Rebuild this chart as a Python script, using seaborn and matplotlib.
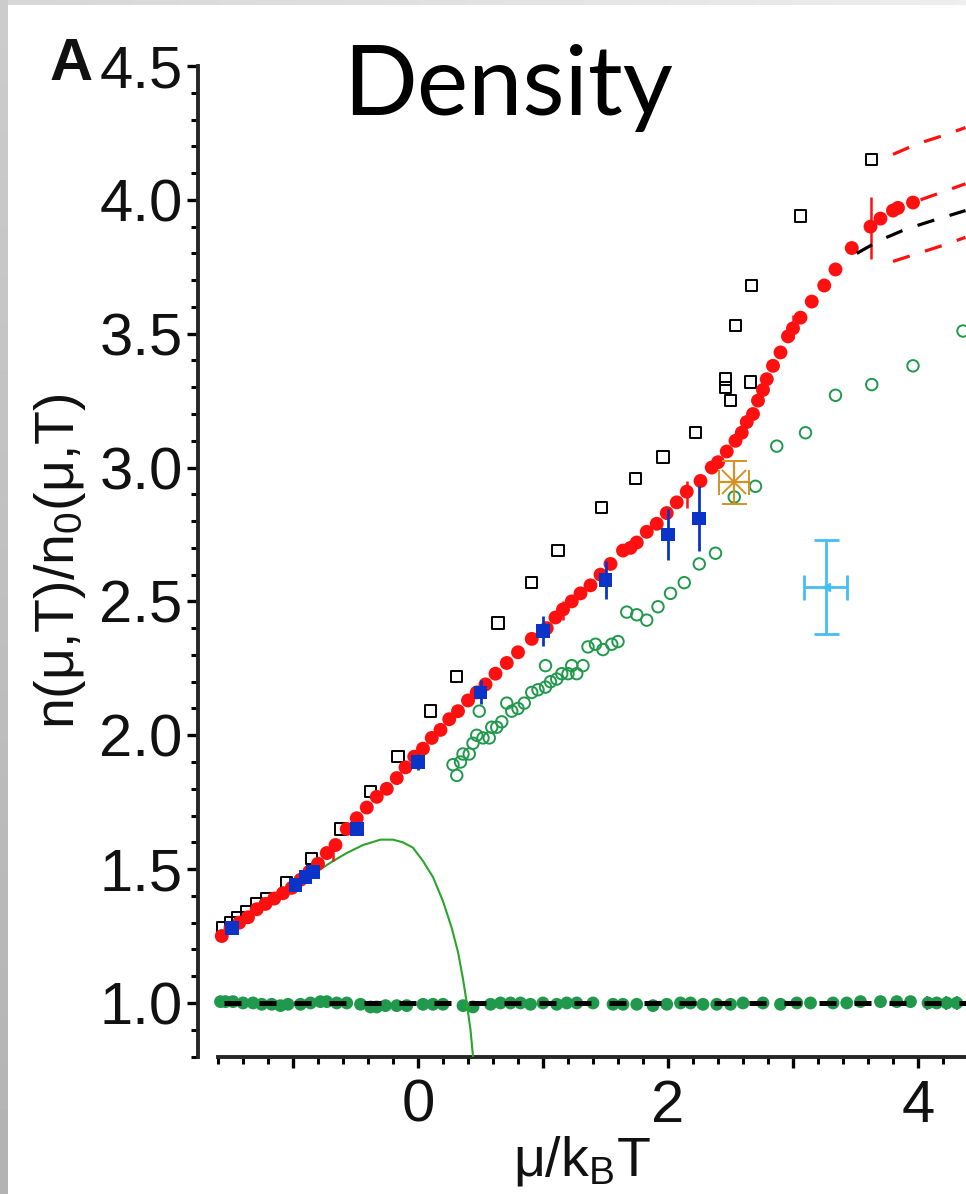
import numpy as np
import pandas as pd
import matplotlib
matplotlib.use("Agg")
import matplotlib.pyplot as plt
import seaborn as sns
from matplotlib.ticker import FixedLocator, MultipleLocator, FuncFormatter

# ---------------- data ----------------
# measured density ratio (red filled circles)
red_mu = [-1.57, -1.50, -1.43, -1.36, -1.29, -1.22, -1.15, -1.08, -1.01, -0.94,
          -0.87, -0.80, -0.73, -0.66, -0.57, -0.49, -0.41, -0.33, -0.25, -0.17,
          -0.10, -0.03, 0.04, 0.11, 0.18, 0.25, 0.32, 0.40, 0.47, 0.54,
          0.62, 0.71, 0.80, 0.91, 1.03, 1.10, 1.16, 1.23, 1.30, 1.38,
          1.46, 1.54, 1.64, 1.70, 1.75, 1.83, 1.91, 1.99, 2.07, 2.15,
          2.26, 2.35, 2.40, 2.47, 2.54, 2.59, 2.63, 2.68, 2.72, 2.76,
          2.79, 2.84, 2.90, 2.96, 3.00, 3.06, 3.15, 3.25, 3.34, 3.47,
          3.62, 3.70, 3.80, 3.84, 3.96]
red_n = [1.25, 1.28, 1.30, 1.32, 1.35, 1.37, 1.39, 1.41, 1.43, 1.46,
         1.49, 1.52, 1.56, 1.59, 1.65, 1.69, 1.73, 1.77, 1.80, 1.84,
         1.88, 1.92, 1.95, 1.99, 2.02, 2.06, 2.09, 2.13, 2.16, 2.19,
         2.23, 2.27, 2.31, 2.36, 2.40, 2.44, 2.47, 2.50, 2.53, 2.56,
         2.60, 2.64, 2.69, 2.70, 2.72, 2.76, 2.79, 2.83, 2.87, 2.91,
         2.95, 3.00, 3.02, 3.06, 3.10, 3.13, 3.17, 3.20, 3.25, 3.29,
         3.33, 3.38, 3.43, 3.49, 3.52, 3.56, 3.62, 3.68, 3.74, 3.82,
         3.90, 3.93, 3.96, 3.97, 3.99]
red_err_mu = [-0.68, 1.16, 2.15, 3.00, 3.62]
red_err_n = [1.565, 2.465, 2.90, 3.525, 3.895]
red_err = [0.035, 0.035, 0.05, 0.045, 0.115]

# open black squares
sq_mu = [-1.56, -1.50, -1.44, -1.37, -1.29, -1.21, -1.05, -0.85, -0.62, -0.38,
         -0.16, 0.10, 0.31, 0.64, 0.91, 1.12, 1.47, 1.74, 1.96, 2.22,
         2.50, 2.46, 2.46, 2.66, 2.54, 2.67, 3.06, 3.63]
sq_n = [1.28, 1.30, 1.32, 1.34, 1.37, 1.39, 1.45, 1.54, 1.65, 1.79,
        1.92, 2.09, 2.22, 2.42, 2.57, 2.69, 2.85, 2.96, 3.04, 3.13,
        3.25, 3.30, 3.33, 3.32, 3.53, 3.68, 3.94, 4.15]

# blue filled squares with error bars
blue_mu = [-1.49, -0.98, -0.90, -0.84, -0.49, 0.00, 0.50, 1.00, 1.50, 2.00, 2.25]
blue_n = [1.28, 1.44, 1.47, 1.49, 1.65, 1.90, 2.16, 2.39, 2.58, 2.75, 2.81]
blue_err = [0.015, 0.02, 0.02, 0.02, 0.02, 0.03, 0.045, 0.055, 0.07, 0.095, 0.12]

# open green circles
gc_mu = [0.31, 0.28, 0.34, 0.36, 0.41, 0.44, 0.47, 0.52, 0.57, 0.59,
         0.63, 0.67, 0.49, 0.71, 0.75, 0.80, 0.85, 0.91, 0.96, 1.02,
         1.06, 1.11, 1.15, 1.02, 1.20, 1.23, 1.27, 1.32, 1.36, 1.42,
         1.48, 1.55, 1.60, 1.67, 1.75, 1.83, 1.92, 2.02, 2.13, 2.25,
         2.38, 2.53, 2.70, 2.87, 3.10, 3.34, 3.63, 3.96, 4.36]
gc_n = [1.85, 1.89, 1.90, 1.93, 1.93, 1.97, 2.00, 1.99, 1.99, 2.03,
        2.03, 2.05, 2.09, 2.12, 2.09, 2.10, 2.12, 2.16, 2.17, 2.18,
        2.20, 2.21, 2.23, 2.26, 2.23, 2.26, 2.23, 2.26, 2.33, 2.34,
        2.32, 2.34, 2.35, 2.46, 2.45, 2.43, 2.48, 2.53, 2.57, 2.64,
        2.68, 2.89, 2.93, 3.08, 3.13, 3.27, 3.31, 3.38, 3.51]

# filled green circles (reference gas, ratio ~ 1)
g1_mu = [-1.58, -1.54, -1.48, -1.40, -1.32, -1.25, -1.17, -1.10, -1.04, -0.94,
         -0.86, -0.78, -0.73, -0.65, -0.57, -0.46, -0.38, -0.33, -0.26, -0.17,
         -0.09, 0.04, 0.12, 0.20, 0.36, 0.44, 0.58, 0.66, 0.74, 0.82,
         0.90, 1.00, 1.11, 1.19, 1.27, 1.40, 1.56, 1.64, 1.75, 1.88,
         1.99, 2.10, 2.18, 2.28, 2.39, 2.50, 2.60, 2.76, 2.90, 3.03,
         3.14, 3.32, 3.43, 3.54, 3.70, 3.83, 3.94, 4.08, 4.15, 4.23, 4.31]
g1_n = [1.005, 1.005, 1.005, 1.0, 1.0, 0.995, 0.995, 0.99, 0.995, 0.995,
        1.0, 1.005, 1.005, 1.0, 1.0, 0.995, 0.985, 0.985, 0.99, 0.99,
        0.99, 0.995, 0.995, 0.995, 0.99, 0.985, 0.995, 1.0, 1.0, 1.0,
        0.995, 1.0, 0.995, 1.0, 1.0, 1.0, 0.995, 0.995, 0.995, 0.99,
        0.995, 1.0, 1.0, 0.995, 0.995, 0.995, 1.0, 1.0, 0.995, 1.0,
        1.0, 1.0, 1.0, 1.005, 1.005, 1.005, 1.005, 1.0, 1.0, 1.0, 1.0]
g1_err_mu = [4.07, 4.22, 4.31]
g1_err_n = [1.0, 1.0, 1.0]
g1_err = [0.025, 0.025, 0.025]

# green solid curve (virial expansion)
vir_mu = [-0.94, -0.78, -0.68, -0.57, -0.44, -0.30, -0.20, -0.12, -0.04, 0.04,
          0.12, 0.20, 0.27, 0.32, 0.36, 0.39, 0.42, 0.44]
vir_n = [1.45, 1.50, 1.53, 1.56, 1.59, 1.61, 1.61, 1.60, 1.58, 1.53,
         1.47, 1.38, 1.28, 1.19, 1.09, 1.00, 0.90, 0.80]

# ideal gas reference
ideal_mu = [-1.55, 4.38]
ideal_n = [1.0, 1.0]

# dashed extrapolations at high mu
bd_mu = [3.51, 3.70, 3.90, 4.10, 4.38]
bd_n = [3.80, 3.85, 3.89, 3.92, 3.96]
ru_mu = [3.80, 4.00, 4.20, 4.38]
ru_n = [4.17, 4.21, 4.24, 4.27]
rm_mu = [4.02, 4.20, 4.38]
rm_n = [4.00, 4.03, 4.06]
rl_mu = [3.80, 4.00, 4.20, 4.38]
rl_n = [3.77, 3.80, 3.83, 3.86]

# single points with x and y error bars
orange_mu, orange_n, orange_xerr, orange_yerr = [2.53], [2.945], [0.12], [0.08]
cyan_mu, cyan_n, cyan_xerr, cyan_yerr = [3.26], [2.555], [0.175], [0.175]

y_major = [1.0, 1.5, 2.0, 2.5, 3.0, 3.5, 4.0, 4.5]
x_major = [-1, 0, 1, 2, 3, 4]

# ---------------- style ----------------
sns.set_theme(style="ticks")
plt.rcParams["font.family"] = ["Liberation Sans", "DejaVu Sans"]
plt.rcParams["mathtext.fontset"] = "custom"
plt.rcParams["mathtext.rm"] = "Liberation Sans"
plt.rcParams["mathtext.it"] = "Liberation Sans:italic"
plt.rcParams["mathtext.default"] = "rm"

RED = "#ff1010"
BLUE = "#0a34c8"
GREEN = "#20994c"
CURVE_GREEN = "#2aa42a"
ORANGE = "#d39222"
CYAN = "#45bdf5"

W, H = 966, 1194
fig = plt.figure(figsize=(W / 100, H / 100), dpi=100, facecolor="white")

# thin gray frame strips along the left and top edges
gax = fig.add_axes([0, 0, 8 / W, 1])
gax.imshow(np.linspace(0.80, 0.70, 100).reshape(-1, 1), cmap="gray", vmin=0, vmax=1,
           aspect="auto", extent=[0, 1, 0, 1])
gax.axis("off")
tax = fig.add_axes([8 / W, 1 - 5 / H, 1 - 8 / W, 5 / H])
tax.imshow(np.linspace(0.84, 0.93, 100).reshape(1, -1), cmap="gray", vmin=0, vmax=1,
           aspect="auto", extent=[0, 1, 0, 1])
tax.axis("off")

left_px, right_px, top_px, bot_px = 198, 966, 66, 1056.5
ax = fig.add_axes([left_px / W, 1 - bot_px / H, (right_px - left_px) / W, (bot_px - top_px) / H])
ax.set_facecolor("white")
ax.set_xlim(-1.76, 4.384)
ax.set_ylim(0.8, 4.5)

# reference-gas circles and the ideal line
sns.scatterplot(x=g1_mu, y=g1_n, ax=ax, color=GREEN, s=85, edgecolor="none",
                legend=False, zorder=2)
ax.errorbar(g1_err_mu, g1_err_n, yerr=g1_err, fmt="none", ecolor=GREEN, elinewidth=1.5, zorder=2)
sns.lineplot(x=ideal_mu, y=ideal_n, ax=ax, color="black", lw=3.6,
             dashes=(3.4, 3.6), zorder=3, legend=False)

# virial curve
sns.lineplot(x=vir_mu, y=vir_n, ax=ax, color=CURVE_GREEN, lw=1.5, sort=False,
             estimator=None, zorder=4, legend=False)

# open black squares
sns.scatterplot(x=sq_mu, y=sq_n, ax=ax, marker="s", s=68, facecolor="none",
                edgecolor="black", linewidth=1.4, legend=False, zorder=5)

# open green circles
sns.scatterplot(x=gc_mu, y=gc_n, ax=ax, marker="o", s=68, facecolor="none",
                edgecolor=GREEN, linewidth=1.4, legend=False, zorder=5)

# red data and its error bars
ax.errorbar(red_err_mu, red_err_n, yerr=red_err, fmt="none", ecolor=RED, elinewidth=1.8, zorder=6)
sns.scatterplot(x=red_mu, y=red_n, ax=ax, color=RED, s=100, edgecolor="none",
                legend=False, zorder=6)

# blue squares with error bars
ax.errorbar(blue_mu, blue_n, yerr=blue_err, fmt="none", ecolor=BLUE, elinewidth=2.0, zorder=7)
sns.scatterplot(x=blue_mu, y=blue_n, ax=ax, marker="s", color=BLUE, s=95,
                edgecolor="none", legend=False, zorder=7)

# dashed extrapolations
for mx, my, col in [(bd_mu, bd_n, "black"), (ru_mu, ru_n, RED),
                    (rm_mu, rm_n, RED), (rl_mu, rl_n, RED)]:
    sns.lineplot(x=mx, y=my, ax=ax, color=col, lw=2.3, dashes=(5.5, 5.0),
                 zorder=6, legend=False)

# single points with two-way error bars
ax.errorbar(orange_mu, orange_n, xerr=orange_xerr, yerr=orange_yerr, fmt="x",
            color=ORANGE, ms=17, mew=1.4, elinewidth=1.6, capsize=9, capthick=1.6, zorder=8)
ax.errorbar(cyan_mu, cyan_n, xerr=cyan_xerr, yerr=cyan_yerr, fmt="<",
            color=CYAN, ms=6, elinewidth=2.0, capsize=9, capthick=2.0, zorder=8)

# axes styling
for side in ("top", "right"):
    ax.spines[side].set_visible(False)
ax.spines["left"].set_linewidth(2.8)
ax.spines["bottom"].set_linewidth(2.8)
ax.spines["left"].set_bounds(0.8, 4.5)
ax.spines["bottom"].set_bounds(-1.6, 4.384)

ax.yaxis.set_major_locator(FixedLocator(y_major))
ax.yaxis.set_minor_locator(MultipleLocator(0.1))
ax.yaxis.set_major_formatter(FuncFormatter(lambda v, p: f"{v:.1f}"))
ax.xaxis.set_major_locator(FixedLocator(x_major))
ax.xaxis.set_minor_locator(MultipleLocator(0.2))
ax.xaxis.set_major_formatter(FuncFormatter(lambda v, p: f"{int(round(v))}" if int(round(v)) % 2 == 0 else ""))

ax.tick_params(axis="both", which="major", direction="out", length=8, width=2.4,
               labelsize=43, color="black", labelcolor="#111111")
ax.tick_params(axis="both", which="minor", direction="out", length=5, width=2.2, color="black")
ax.tick_params(axis="y", which="major", pad=3)
ax.tick_params(axis="x", which="major", pad=8)

ax.set_ylabel(r"n(μ,T)/n$_0$(μ,T)", fontsize=40, labelpad=8, color="#111111")
ax.set_xlabel(r"μ/k$_\mathrm{B}$T", fontsize=40, labelpad=0, color="#111111")

fig.text(508 / W, 1 - 115 / H, "Density", ha="center", va="baseline",
         fontsize=70, family=["Lato", "DejaVu Sans"], color="black")
fig.text(50 / W, 1 - 80 / H, "A", ha="left", va="baseline", fontsize=43,
         fontweight="bold", color="#111111")

fig.savefig("out.png", dpi=100, facecolor="white")
